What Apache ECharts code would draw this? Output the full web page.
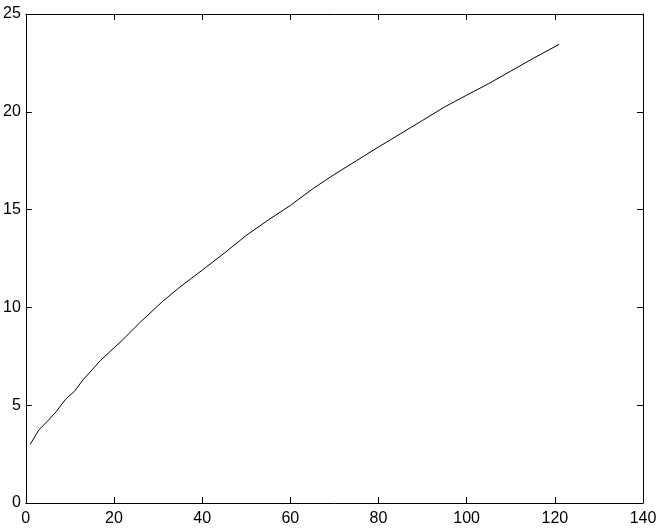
<!DOCTYPE html>
<html>
<head>
<meta charset="utf-8">
<script src="https://cdn.jsdelivr.net/npm/echarts@6/dist/echarts.min.js"></script>
<style>
  html, body { margin: 0; padding: 0; background: #fff; }
  #chart { width: 663px; height: 528px; }
</style>
</head>
<body>
<div id="chart"></div>
<script>
// values
var xs = [1, 3, 5, 7, 9, 11, 13, 17, 22, 26, 31, 35, 40, 45, 50, 55, 60, 65, 70, 75, 80, 85, 90, 95, 100, 105, 110, 115, 121];
var ys = [3.0, 3.75, 4.2, 4.7, 5.3, 5.7, 6.3, 7.3, 8.35, 9.25, 10.3, 11.05, 11.9, 12.77, 13.68, 14.47, 15.21, 16.05, 16.8, 17.5, 18.2, 18.88, 19.56, 20.25, 20.85, 21.44, 22.08, 22.72, 23.45];
var xRange = [0, 140, 20];
var yRange = [0, 25, 5];

var points = xs.map(function (x, i) { return [x, ys[i]]; });

var chart = echarts.init(document.getElementById('chart'));

var lab = { color: '#000', fontFamily: 'Liberation Sans, Arial, sans-serif', fontSize: 16 };
var line = { show: true, onZero: false, lineStyle: { color: '#000', width: 1 } };
var tick = { show: true, inside: true, length: 6, lineStyle: { color: '#000', width: 1 } };

function xAxis(pos, labels) {
    return {
        type: 'value', position: pos,
        min: xRange[0], max: xRange[1], interval: xRange[2],
        axisLine: line, axisTick: tick,
        axisLabel: Object.assign({ show: labels, margin: 8 }, lab),
        splitLine: { show: false }
    };
}
function yAxis(pos, labels) {
    return {
        type: 'value', position: pos,
        min: yRange[0], max: yRange[1], interval: yRange[2],
        axisLine: line, axisTick: tick,
        axisLabel: Object.assign({ show: labels, margin: 5 }, lab),
        splitLine: { show: false }
    };
}

chart.setOption({
    animation: false,
    grid: { left: 23, right: 20, top: 14, bottom: 25, containLabel: false },
    xAxis: [xAxis('bottom', true), xAxis('top', false)],
    yAxis: [yAxis('left', true), yAxis('right', false)],
    series: [{
        type: 'line',
        xAxisIndex: 0,
        yAxisIndex: 0,
        data: points,
        showSymbol: false,
        smooth: false,
        lineStyle: { color: '#000', width: 1 }
    }]
});
</script>
</body>
</html>
